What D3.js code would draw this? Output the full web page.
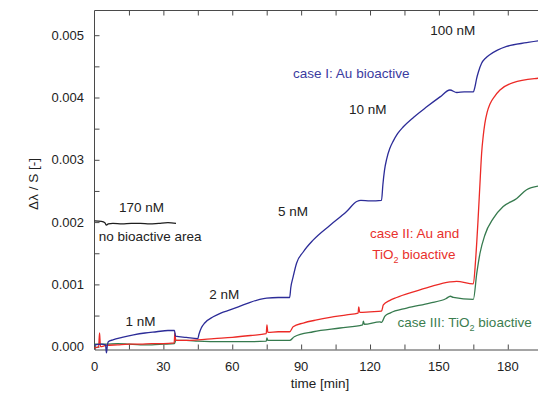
<!DOCTYPE html>
<html>
<head>
<meta charset="utf-8">
<script src="https://cdn.jsdelivr.net/npm/d3@7"></script>
<style>
  body { margin: 0; background: #fff; }
  svg { display: block; font-family: "Liberation Sans", Arial, sans-serif; }
</style>
</head>
<body>
<div id="chart"></div>
<script>
const width = 538;
const height = 394;

// [time (min), Δλ/S]
const noBioactive = [
  [0, 0.00202], [3, 0.00201], [4.5, 0.00199], [5.2, 0.00195], [6, 0.00197], [8, 0.00198],
  [12, 0.00197], [16, 0.00198], [20, 0.00198], [24, 0.00197], [28, 0.00198], [32, 0.00199],
  [35.5, 0.00198]
];

const caseI = [
  [0, 0.00003], [3, 0.00004], [4.8, 0.00003], [5.2, -0.0001], [5.6, 0.00002], [6, 0.00008],
  [8, 0.00011], [12, 0.00015], [17, 0.00019], [22, 0.00022], [27, 0.00024], [32, 0.00026],
  [34.8, 0.00026], [35.3, 0.00017], [40, 0.00015], [45, 0.00013],
  [45.5, 0.00020], [46.5, 0.00030], [48, 0.00038], [51.7, 0.00048], [55, 0.00054], [59, 0.00059],
  [66.3, 0.00069], [72, 0.00076], [75, 0.00078], [80, 0.00079], [85, 0.00079],
  [85.5, 0.00095], [86.5, 0.00112], [88, 0.00134], [90.9, 0.00152], [95.2, 0.00171],
  [102.6, 0.00195], [109.8, 0.00217], [114.2, 0.00233], [116, 0.00235], [120, 0.00234], [125, 0.00235],
  [125.6, 0.0026], [126.3, 0.00283], [127.3, 0.00302], [128.6, 0.00318], [130.1, 0.0033],
  [132, 0.00342], [134.5, 0.00353], [138.9, 0.00368], [144.7, 0.00385], [150.5, 0.00401],
  [154.8, 0.00412], [157.8, 0.00408], [161, 0.00409], [165, 0.00409],
  [165.7, 0.00417], [166.4, 0.0043], [167.2, 0.00441], [168.6, 0.00455], [170.3, 0.00463],
  [172.3, 0.00469], [175.5, 0.00476], [179.5, 0.00482], [188.2, 0.00488], [193.5, 0.00491],
  [200, 0.00493]
];

const caseII = [
  [0, -0.00002], [1.8, 0.00000], [2.2, 0.00022], [2.6, 0.00000], [5, 0.00002], [10, 0.00003],
  [15, 0.00004], [20, 0.00004], [25, 0.00005], [30, 0.00005], [34.7, 0.00006], [35, 0.00022],
  [35.4, 0.0001], [40, 0.0001], [45, 0.00011], [52, 0.00013], [60, 0.00015], [68, 0.00018],
  [74.8, 0.00021], [75.1, 0.00035], [75.5, 0.00023], [80, 0.00024], [85, 0.00024],
  [86.5, 0.00032], [90.9, 0.00038], [96.8, 0.00043], [102.6, 0.00047], [109.8, 0.00051],
  [114.8, 0.00054], [115.1, 0.00064], [115.5, 0.00055], [120, 0.00056], [125, 0.00057],
  [125.8, 0.00067], [128.5, 0.00074], [131.6, 0.00079], [138.9, 0.00088], [146, 0.00096],
  [154.8, 0.00104], [157.7, 0.00105], [165, 0.00101],
  [166, 0.0014], [167, 0.0020], [168, 0.0027], [168.6, 0.0031], [169.3, 0.00338], [170, 0.00358],
  [171, 0.00376], [172.3, 0.0039], [174.3, 0.00402], [176.6, 0.00412], [182.4, 0.00424],
  [193.5, 0.00431], [200, 0.00433]
];

const caseIII = [
  [0, 0.00004], [5, 0.00004], [10, 0.00005], [15, 0.00004], [20, 0.00003], [25, 0.00003],
  [30, 0.00004], [34.8, 0.00005], [35.4, 0.0001], [40, 0.0001], [45, 0.00009], [55, 0.00008],
  [65, 0.00008], [74.8, 0.00009], [75.1, 0.00014], [75.5, 0.0001], [85, 0.0001],
  [87, 0.00016], [95.3, 0.00024], [107, 0.0003], [116.8, 0.00035], [117.1, 0.00041],
  [117.5, 0.00036], [124.3, 0.0004], [125, 0.00039],
  [126.5, 0.00049], [128.7, 0.00054], [136, 0.00062], [146, 0.0007], [153, 0.00077],
  [155, 0.00081], [156.3, 0.00079], [165, 0.00076],
  [166.5, 0.00118], [167.9, 0.0015], [170, 0.00179], [173.7, 0.00206], [178, 0.00225],
  [183.9, 0.00238], [188.2, 0.00252], [193.5, 0.00258], [200, 0.0026]
];

const xTicks = [0, 30, 60, 90, 120, 150, 180];
const yTicks = [0, 0.001, 0.002, 0.003, 0.004, 0.005];

const series = [
  { data: noBioactive, color: "#1e1e1e" },
  { data: caseIII, color: "#367a4e" },
  { data: caseII, color: "#ec2a26" },
  { data: caseI, color: "#2c2c98" }
];

const labels = [
  { t: 20.5, v: 0.00217, text: "170 nM", color: "#222" },
  { t: 1.8, v: 0.00169, text: "no bioactive area", color: "#222", anchor: "start" },
  { t: 20, v: 0.00033, text: "1 nM", color: "#222" },
  { t: 56.5, v: 0.00077, text: "2 nM", color: "#222" },
  { t: 86.5, v: 0.0021, text: "5 nM", color: "#222" },
  { t: 119, v: 0.00374, text: "10 nM", color: "#222" },
  { t: 156, v: 0.005, text: "100 nM", color: "#222" },
  { t: 86.5, v: 0.00432, text: "case I: Au bioactive", color: "#3b3b9f", anchor: "start" },
  { t: 120, v: 0.00174, text: "case II: Au and", color: "#e8302c", anchor: "start" },
  { t: 121, v: 0.0014, text: "TiO", sub: "2", rest: " bioactive", color: "#e8302c", anchor: "start" },
  { t: 132, v: 0.00031, text: "case III: TiO", sub: "2", rest: " bioactive", color: "#3b7d4f", anchor: "start" }
];

const margin = { left: 94.5, top: 10.5, bottom: 349.5 };

const x = d3.scaleLinear().domain([0, 200]).range([margin.left, margin.left + 2.296 * 200]);
const y = d3.scaleLinear().domain([0, 0.005]).range([346.7, 35.2]);

const svg = d3.select("#chart").append("svg")
  .attr("width", width)
  .attr("height", height);

const axisColor = "#4a4a4a";

// frame
svg.append("line")
  .attr("x1", margin.left).attr("x2", margin.left)
  .attr("y1", margin.top).attr("y2", margin.bottom)
  .attr("stroke", axisColor);
svg.append("line")
  .attr("x1", margin.left).attr("x2", width)
  .attr("y1", margin.top).attr("y2", margin.top)
  .attr("stroke", axisColor);

// bottom axis, ticks inward
const xAxis = svg.append("g")
  .attr("transform", `translate(0,${margin.bottom})`)
  .call(d3.axisBottom(x).tickValues(d3.range(0, 200, 15)).tickSize(-5).tickFormat(""));
xAxis.select(".domain").attr("stroke", axisColor);
xAxis.selectAll(".tick line").attr("stroke", axisColor);

svg.append("g")
  .attr("font-size", 13)
  .attr("fill", "#222")
  .attr("text-anchor", "middle")
  .selectAll("text")
  .data(xTicks)
  .join("text")
  .attr("x", d => x(d))
  .attr("y", 371)
  .text(d => d);

// top axis
const xTop = svg.append("g")
  .attr("transform", `translate(0,${margin.top})`)
  .call(d3.axisTop(x).tickValues(d3.range(15, 200, 15)).tickSize(-5).tickFormat(""));
xTop.select(".domain").remove();
xTop.selectAll(".tick line").attr("stroke", axisColor);

// left axis
const yAxis = svg.append("g")
  .attr("transform", `translate(${margin.left},0)`)
  .call(d3.axisLeft(y).tickValues(d3.range(0, 0.0055, 0.0005)).tickSize(-5).tickFormat(""));
yAxis.select(".domain").remove();
yAxis.selectAll(".tick line").attr("stroke", axisColor);

svg.append("g")
  .attr("font-size", 13)
  .attr("fill", "#222")
  .attr("text-anchor", "end")
  .selectAll("text")
  .data(yTicks)
  .join("text")
  .attr("x", 84)
  .attr("y", d => y(d) + 4.5)
  .text(d => d.toFixed(3));

// axis titles
svg.append("text")
  .attr("x", 320)
  .attr("y", 388)
  .attr("text-anchor", "middle")
  .attr("font-size", 13.5)
  .attr("fill", "#222")
  .text("time [min]");

svg.append("text")
  .attr("transform", "translate(38,184) rotate(-90)")
  .attr("text-anchor", "middle")
  .attr("font-size", 13.5)
  .attr("fill", "#222")
  .text("Δλ / S [-]");

// curves
const line = d3.line()
  .curve(d3.curveMonotoneX)
  .x(d => x(d[0]))
  .y(d => y(d[1]));

svg.append("g")
  .attr("fill", "none")
  .attr("stroke-width", 1.3)
  .attr("stroke-linejoin", "round")
  .selectAll("path")
  .data(series)
  .join("path")
  .attr("stroke", d => d.color)
  .attr("d", d => line(d.data));

// annotations
const label = svg.append("g")
  .attr("font-size", 13.5)
  .selectAll("text")
  .data(labels)
  .join("text")
  .attr("x", d => x(d.t))
  .attr("y", d => y(d.v))
  .attr("fill", d => d.color)
  .attr("text-anchor", d => d.anchor || "middle")
  .text(d => d.text);

label.filter(d => d.sub)
  .append("tspan")
  .attr("font-size", 9)
  .attr("dy", 4)
  .text(d => d.sub);

label.filter(d => d.rest)
  .append("tspan")
  .attr("dy", -4)
  .text(d => d.rest);
</script>
</body>
</html>
